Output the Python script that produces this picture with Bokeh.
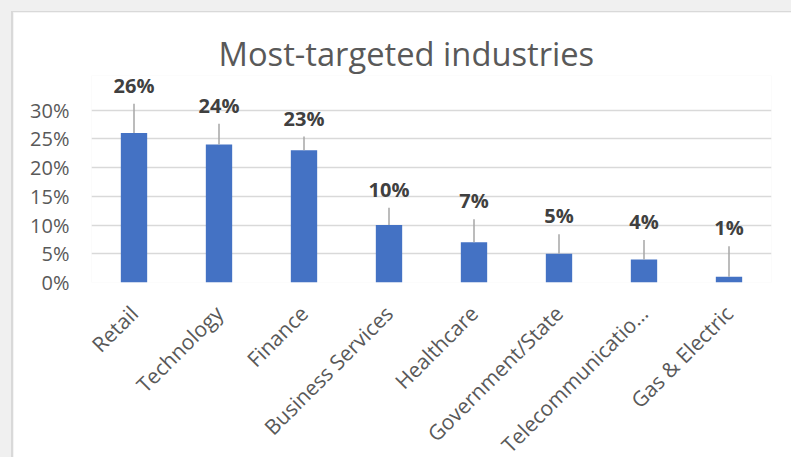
import math
from bokeh.plotting import figure
from bokeh.models import FactorRange, Range1d, FixedTicker, PrintfTickFormatter, ColumnDataSource, Spacer
from bokeh.layouts import column, row
from bokeh.core.properties import value
from bokeh.embed import file_html
from bokeh.resources import INLINE

industries = ["Retail", "Technology", "Finance", "Business Services", "Healthcare",
              "Government/State", "Telecommunicatio\u2026", "Gas & Electric"]
share = [26, 24, 23, 10, 7, 5, 4, 1]
y_ticks = [0, 5, 10, 15, 20, 25, 30]

# placement of the data labels (in % units, as drawn in the reference)
label_pos = [34.3, 30.8, 28.6, 16.2, 14.2, 11.6, 10.6, 9.5]
leader_gap = 3.2

src = ColumnDataSource(dict(
    industry=industries,
    share=share,
    label=[f"{v}%" for v in share],
    label_pos=label_pos,
    lead_top=[lp - leader_gap for lp in label_pos],
))

FONT = "Open Sans"

p = figure(x_range=FactorRange(*industries, range_padding=0), y_range=Range1d(0, 36),
           frame_width=678, frame_height=206, output_backend="svg", toolbar_location=None,
           min_border_left=78, min_border_right=24, min_border_top=63, min_border_bottom=150,
           border_fill_color="white", background_fill_color="white", outline_line_color=None,
           title="Most-targeted industries")

p.title.text_font = FONT
p.title.text_font_size = "32.7px"
p.title.text_font_style = "normal"
p.title.text_color = "#595959"
p.title.align = "left"
p.title.offset = 127
p.title.standoff = 0

p.vbar(x="industry", top="share", width=0.31, source=src, fill_color="#4472C4", line_color=None)
p.segment(x0="industry", y0="share", x1="industry", y1="lead_top", source=src,
          line_color="#a6a6a6", line_width=1.5)
p.text(x="industry", y="label_pos", text="label", source=src, text_align="center",
       text_baseline="middle", text_font=value(FONT), text_font_style="bold",
       text_font_size="20px", text_color="#404040")

p.xgrid.visible = False
p.ygrid.ticker = FixedTicker(ticks=y_ticks)
p.ygrid.grid_line_color = "#d9d9d9"
p.ygrid.grid_line_width = 1.5

p.yaxis.ticker = FixedTicker(ticks=y_ticks)
p.yaxis.formatter = PrintfTickFormatter(format="%d%%")
p.yaxis.axis_line_color = None
p.yaxis.major_tick_line_color = None
p.yaxis.minor_tick_line_color = None
p.yaxis.major_tick_out = 0
p.yaxis.major_label_standoff = 22
p.yaxis.major_label_text_font = FONT
p.yaxis.major_label_text_font_size = "20px"
p.yaxis.major_label_text_color = "#595959"

p.xaxis.axis_line_color = None
p.xaxis.major_tick_line_color = None
p.xaxis.minor_tick_line_color = None
p.xaxis.major_tick_out = 0
p.xaxis.major_label_orientation = math.pi / 4
p.xaxis.major_label_standoff = 27
p.xaxis.major_label_text_font = FONT
p.xaxis.major_label_text_font_size = "21px"
p.xaxis.major_label_text_color = "#595959"

p.styles = {"border-top": "1px solid #d9d9d9", "border-left": "2px solid #d9d9d9"}

layout = column(
    Spacer(width=791, height=11, styles={"background-color": "#f0f0f0"}),
    row(Spacer(width=11, height=446, styles={"background-color": "#f0f0f0"}), p, spacing=0),
    spacing=0,
    styles={"background-color": "#f0f0f0"},
)

open("out.html", "w").write(file_html(layout, INLINE))
